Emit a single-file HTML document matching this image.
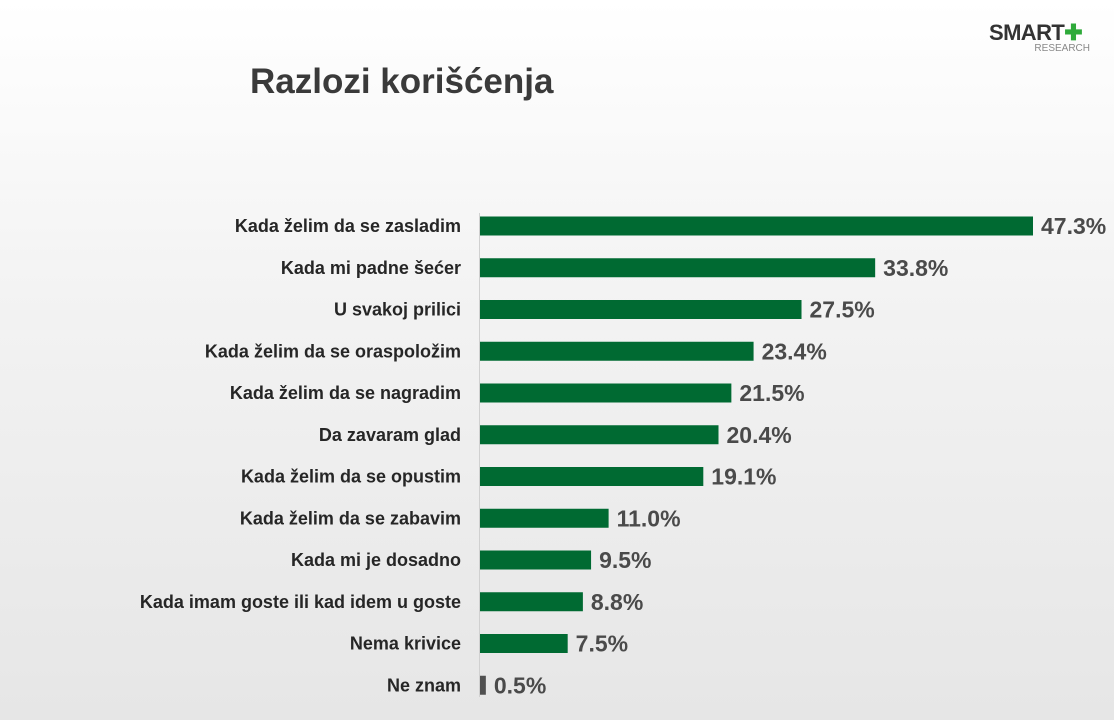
<!DOCTYPE html>
<html><head><meta charset="utf-8"><style>
html,body{margin:0;padding:0}
body{width:1114px;height:720px;overflow:hidden;background:linear-gradient(#ffffff 0%,#f3f3f3 40%,#e6e6e6 100%);font-family:"Liberation Sans",sans-serif;position:relative}
#title{position:absolute;left:250px;top:62px;font-size:35px;font-weight:bold;color:#3a3a3a;margin:0}
#logo{position:absolute;left:989px;top:20px;width:101px}
</style></head><body>
<h1 id="title">Razlozi korišćenja</h1>
<div id="logo">
<div style="font-size:22px;font-weight:bold;color:#333;letter-spacing:-0.6px;white-space:nowrap">SMART<span style="color:#2eaa3a">✚</span></div>
<div style="font-size:10px;color:#888;text-align:right;margin-top:-3px">RESEARCH</div>
</div>
<svg id="chart" width="1114" height="720" style="position:absolute;left:0;top:0"></svg>
<script>
const categories=["Kada želim da se zasladim","Kada mi padne šećer","U svakoj prilici","Kada želim da se oraspoložim","Kada želim da se nagradim","Da zavaram glad","Kada želim da se opustim","Kada želim da se zabavim","Kada mi je dosadno","Kada imam goste ili kad idem u goste","Nema krivice","Ne znam"];
const values=[47.3,33.8,27.5,23.4,21.5,20.4,19.1,11.0,9.5,8.8,7.5,0.5];
const valueLabels=["47.3%","33.8%","27.5%","23.4%","21.5%","20.4%","19.1%","11.0%","9.5%","8.8%","7.5%","0.5%"];
const NS="http://www.w3.org/2000/svg";
const svg=document.getElementById('chart');
const x0=480,pxPer=(1033-480)/47.3;
const x=v=>x0+v*pxPer;
const y=i=>226+i*41.75;
function mk(t,a){const e=document.createElementNS(NS,t);for(const k in a)e.setAttribute(k,a[k]);svg.appendChild(e);return e;}
const ax=mk('line',{x1:479.5,x2:479.5,y1:213,y2:697,stroke:'#d0d0d0','stroke-width':1});


categories.forEach((c,i)=>{
 const t=mk('text',{x:461,y:y(i)+6,'text-anchor':'end','font-size':18,'font-weight':'bold',fill:'#262626','font-family':'Liberation Sans, sans-serif'});
 t.textContent=c;
 
 
 const last=i===categories.length-1;
 const b=mk('rect',{x:x0,y:y(i)-9.5,width:Math.max(x(values[i])-x0,5),height:19,fill:last?'#505050':'#006a32'});
 
 
 const v=mk('text',{x:x0+Math.max(x(values[i])-x0,5)+8,y:y(i)+8,'font-size':23,'font-weight':'bold',fill:'#4a4a4a','font-family':'Liberation Sans, sans-serif'});
 v.textContent=valueLabels[i];
 
 
});
</script>
</body></html>
